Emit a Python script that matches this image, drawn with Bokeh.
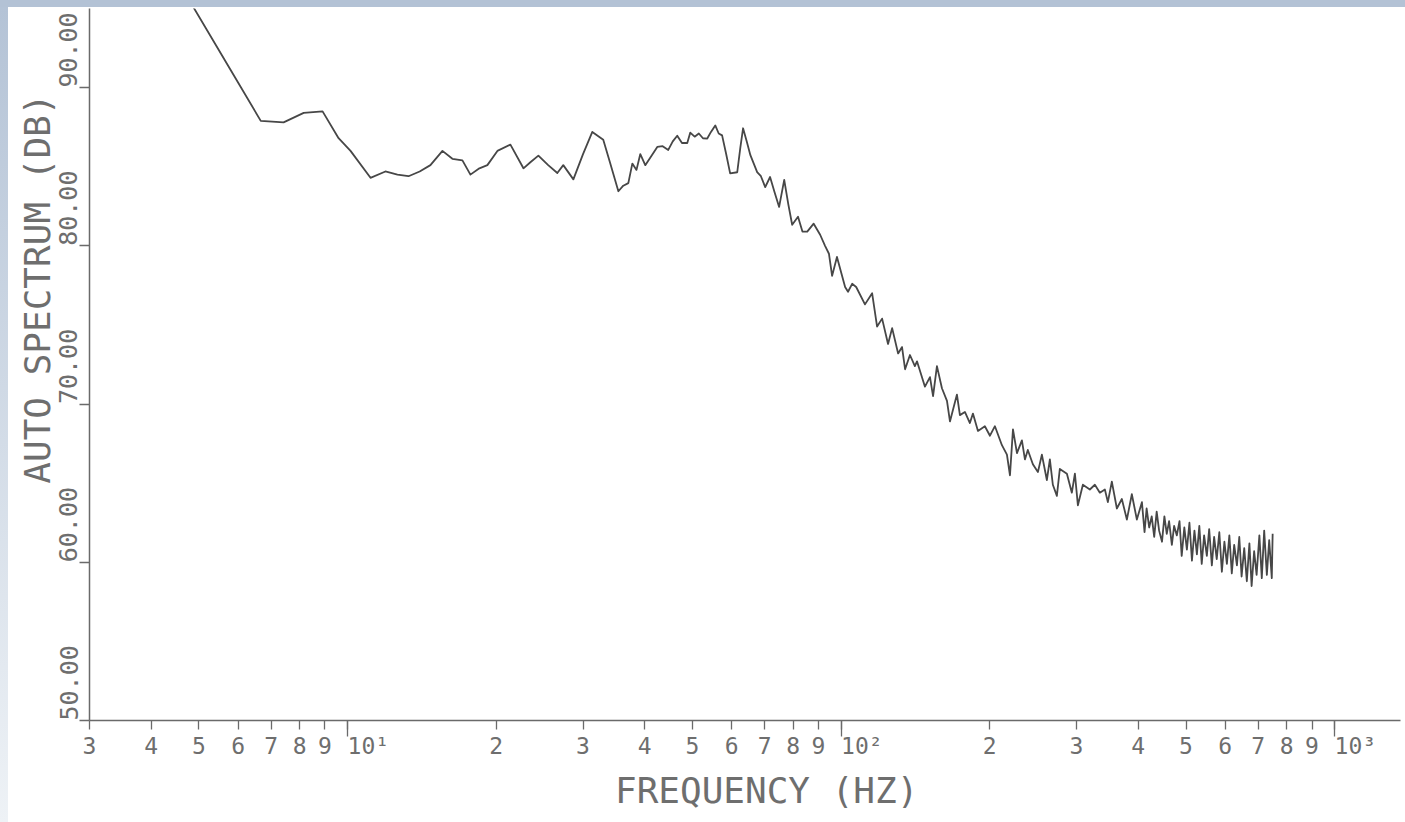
import math
from bokeh.plotting import figure
from bokeh.models import FixedTicker, Div, Range1d
from bokeh.layouts import column, row
from bokeh.embed import file_html
from bokeh.resources import INLINE

# ---------------- data ----------------
freq_low = [4.7, 5.8, 6.67, 7.42, 8.15, 8.9, 9.59, 10.14, 11.13, 11.93, 12.62, 13.29,
            14.0, 14.72, 15.57, 16.31, 17.09, 17.74, 18.5, 19.2, 20.12, 21.38, 22.72,
            23.5, 24.36, 25.5, 26.61, 27.36, 28.68, 30.0]
level_low = [95.9, 91.1, 87.9, 87.8, 88.4, 88.5, 86.8, 86.0, 84.3, 84.7, 84.5, 84.4,
             84.7, 85.1, 86.0, 85.5, 85.4, 84.5, 84.9, 85.1, 86.0, 86.4, 84.9,
             85.3, 85.7, 85.1, 84.6, 85.1, 84.2, 85.8]

freq_mid = [31.33, 32.97, 34.07, 35.38, 36.2, 37.06, 37.76, 38.5, 39.19, 40.11, 41.3,
            42.42, 43.5, 44.65, 45.6, 46.56, 47.6, 48.79, 49.47, 50.5, 51.5, 52.5,
            53.56, 54.5, 55.6, 56.5, 57.4, 58.5, 59.6, 61.6, 62.5, 63.3, 64.4, 65.5,
            67.6, 68.8, 70.2, 71.8, 73.3, 74.9, 76.7, 78.2, 79.6, 81.8, 83.5, 85.4,
            88.0, 90.7, 92.8, 94.5, 95.9, 98.1]
level_mid = [87.2, 86.7, 85.2, 83.45, 83.8, 83.96, 85.2, 84.8, 85.8, 85.1, 85.7,
             86.25, 86.3, 86.06, 86.6, 86.96, 86.5, 86.5, 87.15, 86.9, 87.1, 86.8,
             86.78, 87.2, 87.61, 87.1, 86.98, 85.8, 84.58, 84.65, 86.2, 87.43, 86.6, 85.73,
             84.66, 84.4, 83.71, 84.35, 83.4, 82.46, 84.17, 82.6, 81.33, 81.84, 80.9, 80.9,
             81.4, 80.7, 80.0, 79.5, 78.1, 79.3]

freq_high = [101.9, 103.3, 105.3, 107.3, 111.8, 115.6, 118.3, 121.1, 124.5, 126.9,
             130.5, 132.9, 134.8, 137.9, 141.1, 142.5, 147.9, 151.4, 153.6, 156.4,
             160.1, 163.9, 166.2, 171.7, 174.1, 178.2, 182.4, 185.0, 189.4, 195.6,
             200.3, 205.0, 211.8, 216.8, 219.9, 223.0, 227.2, 232.5, 235.8, 239.0,
             244.7, 250.5, 255.2, 261.2, 264.9, 268.6, 273.7, 277.5, 286.8, 293.5,
             297.7, 301.9, 309.0, 319.2, 326.8, 334.5, 342.4, 347.2, 353.7, 362.1,
             370.6, 379.4, 388.3, 397.5]
level_high = [77.4, 77.1, 77.6, 77.4, 76.3, 77.0, 74.9, 75.4, 73.8, 74.8,
              73.2, 73.6, 72.2, 73.1, 72.4, 72.7, 71.1, 71.7, 70.5, 72.4,
              71.0, 70.2, 68.9, 70.6, 69.3, 69.5, 68.8, 69.4, 68.3, 68.6,
              68.0, 68.6, 67.4, 66.8, 65.5, 68.4, 66.9, 67.7, 66.5, 67.1,
              66.2, 65.7, 66.8, 65.2, 66.5, 64.9, 64.2, 65.9, 65.6, 64.4,
              65.6, 63.6, 64.9, 64.6, 64.9, 64.4, 64.6, 63.8, 65.1, 63.4,
              64.0, 62.7, 64.3, 62.7]

freq_tail = [407, 412, 416, 421, 426, 431, 436, 441, 447, 452, 457, 462, 468, 473,
             479, 485, 490, 496, 502, 508, 514, 520, 526, 532, 538, 544, 551, 557,
             564, 570, 577, 584, 591, 598, 605, 612, 619, 626, 634, 641, 648, 656,
             664, 672, 679, 687, 695, 704, 712, 720, 729, 737, 746, 749]
level_tail = [63.8, 61.9, 63.4, 62.2, 62.9, 61.6, 63.2, 62.0, 61.3, 62.9, 61.8, 62.6,
              61.1, 62.3, 61.7, 62.6, 60.4, 62.2, 60.8, 62.5, 60.1, 62.0, 60.5, 62.3,
              59.9, 61.7, 60.4, 62.1, 59.8, 61.6, 60.2, 61.9, 59.4, 61.3, 59.9, 61.7,
              59.3, 61.1, 59.8, 61.6, 59.1, 60.9, 58.8, 61.2, 58.5, 60.7, 59.2, 61.7,
              59.0, 62.0, 59.2, 61.4, 59.0, 61.8]

y_ticks = [50, 60, 70, 80, 90]
y_tick_labels = ["50.00", "60.00", "70.00", "80.00", "90.00"]
x_ticks = [3, 4, 5, 6, 7, 8, 9, 10, 20, 30, 40, 50, 60, 70, 80, 90, 100,
           200, 300, 400, 500, 600, 700, 800, 900, 1000]
x_tick_labels = ["3", "4", "5", "6", "7", "8", "9", "10\u00b9",
                 "2", "3", "4", "5", "6", "7", "8", "9", "10\u00b2",
                 "2", "3", "4", "5", "6", "7", "8", "9", "10\u00b3"]
x_decades = [10, 100, 1000]
x_title = "FREQUENCY (HZ)"
y_title = "AUTO SPECTRUM (DB)"

freq = freq_low + freq_mid + freq_high + freq_tail
level = level_low + level_mid + level_high + level_tail

# ---------------- styling ----------------
FONT = "DejaVu Sans Mono"
TXT = "#6e6e6e"
AX = "#6a6a6a"
NB = "\u00a0"

p = figure(width=1397, height=815, x_axis_type="log",
           x_range=Range1d(3, 1360), y_range=Range1d(50, 95),
           output_backend="svg", toolbar_location=None,
           min_border_left=81, min_border_right=5, min_border_top=1, min_border_bottom=102,
           background_fill_color="white", border_fill_color="white", margin=0)
p.outline_line_color = None
p.grid.visible = False

p.line(freq, level, line_color="#474747", line_width=1.8, line_join="round")

xa = p.xaxis[0]
xa.ticker = FixedTicker(ticks=x_ticks, minor_ticks=x_decades)
xa.major_label_overrides = {t: (NB * 3 + s if s.startswith("10") else s)
                            for t, s in zip(x_ticks, x_tick_labels)}
xa.axis_line_color = AX
xa.axis_line_width = 1.5
xa.major_tick_line_color = AX
xa.major_tick_line_width = 1.3
xa.major_tick_out = 9
xa.major_tick_in = 0
xa.minor_tick_line_color = AX
xa.minor_tick_line_width = 1.3
xa.minor_tick_out = 16
xa.minor_tick_in = 0
xa.major_label_standoff = -4
xa.major_label_text_font = FONT
xa.major_label_text_font_size = "23px"
xa.major_label_text_color = TXT
xa.axis_label = NB * 2 + x_title
xa.axis_label_text_font = FONT
xa.axis_label_text_font_size = "36px"
xa.axis_label_text_font_style = "normal"
xa.axis_label_text_color = TXT
xa.axis_label_standoff = 8

ya = p.yaxis[0]
ya.ticker = FixedTicker(ticks=y_ticks, minor_ticks=[])
ya.major_label_overrides = {t: NB * 5 + s for t, s in zip(y_ticks, y_tick_labels)}
ya.major_label_orientation = "parallel"
ya.axis_line_color = AX
ya.axis_line_width = 1.5
ya.major_tick_line_color = AX
ya.major_tick_line_width = 1.3
ya.major_tick_out = 10
ya.major_tick_in = 0
ya.minor_tick_out = 0
ya.minor_tick_in = 0
ya.major_label_standoff = -4
ya.major_label_text_font = FONT
ya.major_label_text_font_size = "25px"
ya.major_label_text_color = TXT
ya.axis_label = NB * 7 + y_title
ya.axis_label_text_font = FONT
ya.axis_label_text_font_size = "36px"
ya.axis_label_text_font_style = "normal"
ya.axis_label_text_color = TXT
ya.axis_label_standoff = -6

top_strip = Div(text="", width=1405, height=7, margin=0,
                styles={"background-color": "#b3c2d5"})
left_strip = Div(text="", width=8, height=815, margin=0,
                 styles={"background": "linear-gradient(to bottom, #b4c3d6, #eef2f6)"})

layout = column(top_strip, row(left_strip, p, margin=0, spacing=0), margin=0, spacing=0)

open("out.html", "w").write(file_html(layout, INLINE))
